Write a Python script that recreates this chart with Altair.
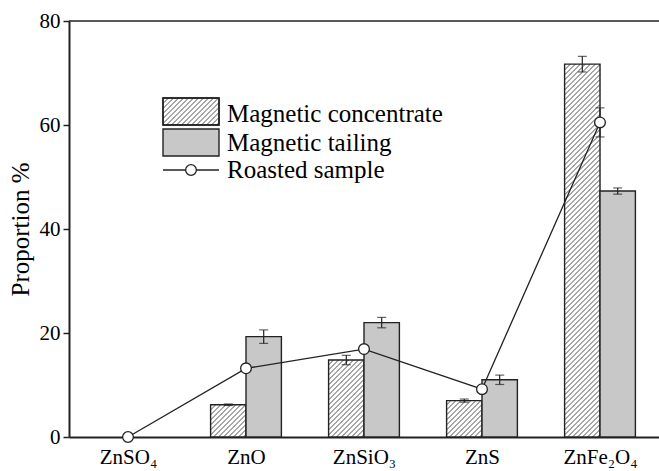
import altair as alt
import pandas as pd

# Zinc phase distribution (%) in the magnetic separation products
categories = ["ZnSO₄", "ZnO", "ZnSiO₃", "ZnS", "ZnFe₂O₄"]
concentrate = [0.0, 6.2, 14.8, 7.0, 71.7]
concentrate_err = [0.0, 0.15, 0.9, 0.3, 1.5]
tailing = [0.0, 19.3, 22.0, 11.0, 47.3]
tailing_err = [0.0, 1.3, 1.0, 0.9, 0.6]
roasted = [0.0, 13.2, 16.9, 9.2, 60.5]
roasted_err = [0.0, 0.0, 0.0, 0.5, 2.8]
y_ticks = [0, 20, 40, 60, 80]
legend_labels = ["Magnetic concentrate", "Magnetic tailing", "Roasted sample"]

FONT = "Liberation Serif"
W, H = 590, 416
Y_MAX = 80
N = len(categories)
BAR = 0.3             # bar width, in category units
KX = W / N            # px per x unit
KY = H / Y_MAX        # px per y unit
HATCH = 5.0           # hatch spacing, px
INK = "#222222"
GREY = "#c8c8c8"

xs = alt.Scale(domain=[0, N], nice=False, zero=False)
ys = alt.Scale(domain=[0, Y_MAX], nice=False)

rows = []
for i, cat in enumerate(categories):
    c = i + 0.5
    rows.append(dict(cat=cat, series=legend_labels[0], x0=c - BAR, x1=c,
                     mid=c - BAR / 2, base=0.0, value=concentrate[i],
                     lo=concentrate[i] - concentrate_err[i],
                     hi=concentrate[i] + concentrate_err[i], err=concentrate_err[i]))
    rows.append(dict(cat=cat, series=legend_labels[1], x0=c, x1=c + BAR,
                     mid=c + BAR / 2, base=0.0, value=tailing[i],
                     lo=tailing[i] - tailing_err[i],
                     hi=tailing[i] + tailing_err[i], err=tailing_err[i]))
bars = pd.DataFrame(rows)
bars = bars[bars["value"] > 0]

line_df = pd.DataFrame({
    "cat": categories,
    "x": [i + 0.5 for i in range(N)],
    "value": roasted,
    "err": roasted_err,
    "lo": [v - e for v, e in zip(roasted, roasted_err)],
    "hi": [v + e for v, e in zip(roasted, roasted_err)],
})


def hatch_layer(source):
    """Diagonal '/' hatching clipped to rectangles [x0,x1] x [base,value]."""
    return alt.Chart(source).transform_calculate(
        w=f"(datum.x1 - datum.x0) * {KX}",
        h=f"(datum.value - datum.base) * {KY}",
    ).transform_calculate(
        c=f"sequence(-datum.w + {HATCH / 2}, datum.h, {HATCH})"
    ).transform_flatten(["c"]).transform_calculate(
        u0="max(0, -datum.c)", v0="max(0, datum.c)",
        u1="min(datum.w, datum.h - datum.c)", v1="min(datum.h, datum.w + datum.c)",
    ).transform_calculate(
        hx=f"datum.x0 + datum.u0 / {KX}", hy=f"datum.base + datum.v0 / {KY}",
        hx2=f"datum.x0 + datum.u1 / {KX}", hy2=f"datum.base + datum.v1 / {KY}",
    ).mark_rule(color=INK, strokeWidth=0.8).encode(
        x=alt.X("hx:Q", scale=xs), x2="hx2:Q",
        y=alt.Y("hy:Q", scale=ys), y2="hy2:Q",
    )


label_expr = "[" + ",".join(f"'{c}'" for c in categories) + "][floor(datum.value)]"

bar_layer = alt.Chart(bars).mark_rect(stroke=INK, strokeWidth=1.4).encode(
    x=alt.X("x0:Q", scale=xs,
            axis=alt.Axis(values=[i + 0.5 for i in range(N)], labelExpr=label_expr,
                          ticks=False, grid=False, title=None, domainWidth=2,
                          domainColor=INK, labelFont=FONT, labelFontSize=21,
                          labelColor="black", labelPadding=9)),
    x2="x1:Q",
    y=alt.Y("value:Q", scale=ys,
            axis=alt.Axis(values=y_ticks, grid=False, tickSize=6, tickWidth=1.5,
                          tickColor=INK, domainWidth=2, domainColor=INK,
                          labelFont=FONT, labelFontSize=21, labelColor="black",
                          labelPadding=3, title="Proportion %", titleFont=FONT,
                          titleFontSize=25, titleFontWeight="normal",
                          titleColor="black", titlePadding=6)),
    y2=alt.datum(0),
    fill=alt.Color("series:N", legend=None,
                   scale=alt.Scale(domain=legend_labels[:2], range=["white", GREY])),
)

conc_hatch = hatch_layer(bars[bars["series"] == legend_labels[0]])

err_src = bars[bars["err"] > 0]
bar_err = alt.Chart(err_src).mark_rule(color=INK, strokeWidth=1.2).encode(
    x=alt.X("mid:Q", scale=xs), y=alt.Y("lo:Q", scale=ys), y2="hi:Q")
bar_cap_lo = alt.Chart(err_src).mark_tick(color=INK, orient="horizontal", size=9,
                                          thickness=1.2).encode(
    x=alt.X("mid:Q", scale=xs), y=alt.Y("lo:Q", scale=ys))
bar_cap_hi = alt.Chart(err_src).mark_tick(color=INK, orient="horizontal", size=9,
                                          thickness=1.2).encode(
    x=alt.X("mid:Q", scale=xs), y=alt.Y("hi:Q", scale=ys))

r_line = alt.Chart(line_df).mark_line(color=INK, strokeWidth=1.3).encode(
    x=alt.X("x:Q", scale=xs), y=alt.Y("value:Q", scale=ys))
r_err_src = line_df[line_df["err"] > 0]
r_err = alt.Chart(r_err_src).mark_rule(color=INK, strokeWidth=1.2).encode(
    x=alt.X("x:Q", scale=xs), y=alt.Y("lo:Q", scale=ys), y2="hi:Q")
r_cap_lo = alt.Chart(r_err_src).mark_tick(color=INK, orient="horizontal", size=9,
                                          thickness=1.2).encode(
    x=alt.X("x:Q", scale=xs), y=alt.Y("lo:Q", scale=ys))
r_cap_hi = alt.Chart(r_err_src).mark_tick(color=INK, orient="horizontal", size=9,
                                          thickness=1.2).encode(
    x=alt.X("x:Q", scale=xs), y=alt.Y("hi:Q", scale=ys))
r_pts = alt.Chart(line_df).mark_point(shape="circle", filled=True, fill="white",
                                      stroke=INK, strokeWidth=1.3, size=115,
                                      opacity=1).encode(
    x=alt.X("x:Q", scale=xs), y=alt.Y("value:Q", scale=ys))

# Legend block (pixel layout inside the plot area)
LX0, LX1 = 94, 150
box1 = (77, 104)
box2 = (108, 135)
LINE_Y = 149
one = line_df.head(1)

leg_box1 = alt.Chart(one).mark_rect(fill="white", stroke=INK, strokeWidth=1.4).encode(
    x=alt.value(LX0), x2=alt.value(LX1), y=alt.value(box1[0]), y2=alt.value(box1[1]))
leg_hatch_src = pd.DataFrame([dict(x0=LX0 / KX, x1=LX1 / KX,
                                   base=(H - box1[1]) / KY, value=(H - box1[0]) / KY)])
leg_hatch = hatch_layer(leg_hatch_src)
leg_box1_edge = alt.Chart(one).mark_rect(fill=None, stroke=INK, strokeWidth=1.4).encode(
    x=alt.value(LX0), x2=alt.value(LX1), y=alt.value(box1[0]), y2=alt.value(box1[1]))
leg_box2 = alt.Chart(one).mark_rect(fill=GREY, stroke=INK, strokeWidth=1.4).encode(
    x=alt.value(LX0), x2=alt.value(LX1), y=alt.value(box2[0]), y2=alt.value(box2[1]))
leg_line = alt.Chart(one).mark_rule(color=INK, strokeWidth=1.3).encode(
    x=alt.value(LX0), x2=alt.value(LX1), y=alt.value(LINE_Y))
leg_pt = alt.Chart(one).mark_point(shape="circle", filled=True, fill="white",
                                   stroke=INK, strokeWidth=1.3, size=115,
                                   opacity=1).encode(
    x=alt.value((LX0 + LX1) / 2), y=alt.value(LINE_Y))
leg_text = alt.Chart(pd.DataFrame({
    "label": legend_labels,
    "ypx": [100.5, 129.5, 157],
})).mark_text(font=FONT, fontSize=25, align="left", baseline="alphabetic",
              color="black").encode(
    x=alt.value(LX1 + 8), y=alt.Y("ypx:Q", scale=None), text="label:N")

top_border = alt.Chart(one).mark_rule(color=INK, strokeWidth=1.5).encode(
    x=alt.value(0), x2=alt.value(W), y=alt.value(0))

chart = alt.layer(
    bar_layer, conc_hatch, bar_err, bar_cap_lo, bar_cap_hi,
    r_line, r_err, r_cap_lo, r_cap_hi, r_pts,
    leg_box1, leg_hatch, leg_box1_edge, leg_box2, leg_line, leg_pt, leg_text,
    top_border,
).properties(
    width=W, height=H,
    autosize=alt.AutoSizeParams(type="none"),
    padding={"left": 69, "top": 21, "right": 0, "bottom": 34},
    background="white",
).configure_view(stroke=None)

chart.save("out.html", embed_options={"renderer": "svg", "actions": False})
